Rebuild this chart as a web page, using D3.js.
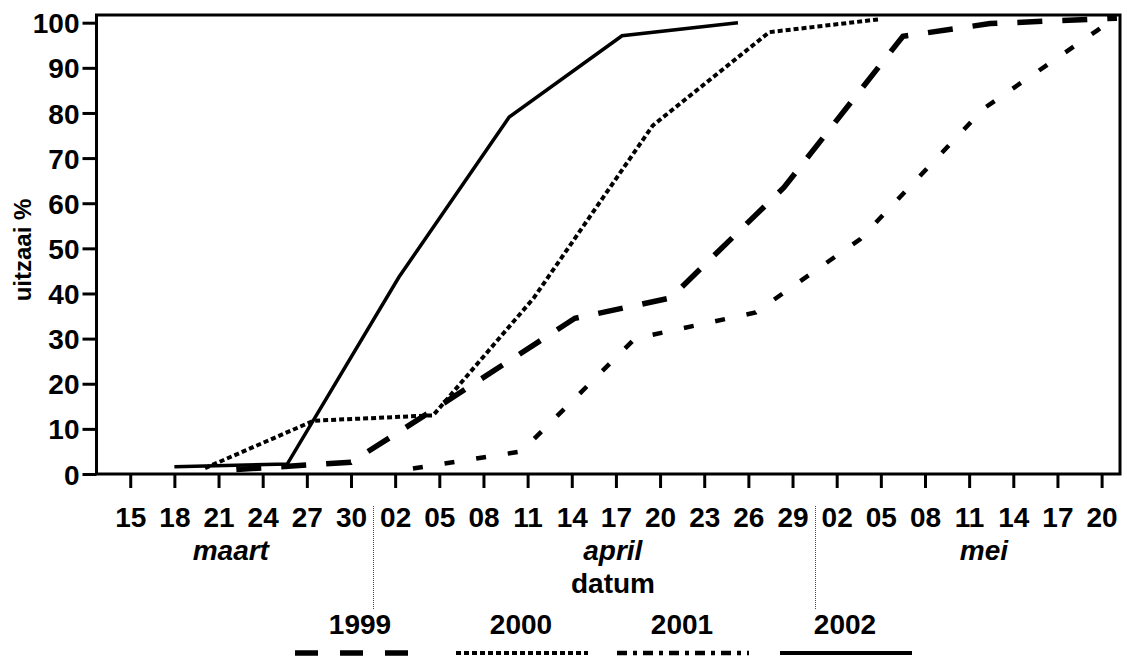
<!DOCTYPE html>
<html>
<head>
<meta charset="utf-8">
<script src="https://cdn.jsdelivr.net/npm/d3@7"></script>
<style>
  html, body { margin: 0; padding: 0; background: #fff; }
  svg { display: block; font-family: "Liberation Sans", Arial, sans-serif; font-weight: bold; }
</style>
</head>
<body>
<svg id="chart" width="1127" height="657"></svg>
<script>
// ---- data -------------------------------------------------------------
const tickDates = [
  "2002-03-15","2002-03-18","2002-03-21","2002-03-24","2002-03-27","2002-03-30",
  "2002-04-02","2002-04-05","2002-04-08","2002-04-11","2002-04-14","2002-04-17",
  "2002-04-20","2002-04-23","2002-04-26","2002-04-29","2002-05-02","2002-05-05",
  "2002-05-08","2002-05-11","2002-05-14","2002-05-17","2002-05-20"
];
const yTicks = [0, 10, 20, 30, 40, 50, 60, 70, 80, 90, 100];

const months = ["maart", "april", "mei"];
const monthAnchors = ["2002-03-21T20", "2002-04-16T19", "2002-05-12T00"];
const monthBreaks = ["2002-03-31T12", "2002-04-30T12"];

const years = ["1999", "2000", "2001", "2002"];

const dates1999  = ["2002-03-22T05","2002-03-30T00","2002-04-04T12","2002-04-14T05",
                    "2002-04-20T17","2002-04-28T10","2002-05-06T12","2002-05-12T10","2002-05-21T01"];
const values1999 = [1.0, 2.6, 14, 34.5, 39, 63.5, 97, 99.8, 101];

const dates2000  = ["2002-03-20T02","2002-03-27T11","2002-04-04T14","2002-04-11T10",
                    "2002-04-19T12","2002-04-27T10","2002-05-05T00"];
const values2000 = [1.3, 11.8, 13, 39, 77.2, 97.9, 100.8];

const dates2001  = ["2002-04-03T05","2002-04-10T14","2002-04-18T07","2002-04-26T12",
                    "2002-05-03T14","2002-05-12T00","2002-05-19T17","2002-05-20T12"];
const values2001 = [1.2, 5, 30, 35.8, 52, 81, 98.3, 100.2];

const dates2002  = ["2002-03-18T00","2002-03-25T16","2002-04-02T06","2002-04-09T18",
                    "2002-04-17T10","2002-04-25T07"];
const values2002 = [1.6, 2.2, 43.6, 79.1, 97.1, 100];

// ---- helpers ----------------------------------------------------------
const parseDay = d3.utcParse("%Y-%m-%d");
const parseHour = d3.utcParse("%Y-%m-%dT%H");
const parse = s => (s.length > 10 ? parseHour(s) : parseDay(s));

const svg = d3.select("#chart");
const font = 28;

const plotLeft = 96.5, plotRight = 1120, plotTop = 15, plotBottom = 474;

const x = d3.scaleUtc()
  .domain([parse("2002-03-12T17"), parse("2002-05-21T06")])
  .range([plotLeft, plotRight]);

const y = d3.scaleLinear()
  .domain([0, 100])
  .range([plotBottom, 22.7]);

// ---- series -----------------------------------------------------------
const series = [
  { year: years[0], dates: dates1999, values: values1999, width: 5.5, dash: "25,20" },
  { year: years[1], dates: dates2000, values: values2000, width: 4,   dash: "5,3" },
  { year: years[2], dates: dates2001, values: values2001, width: 4.5, dash: "10,22" },
  { year: years[3], dates: dates2002, values: values2002, width: 3.5, dash: null }
];

const line = d3.line()
  .x(d => x(d.date))
  .y(d => y(d.value));

const lines = svg.append("g").attr("class", "series");
series.forEach(s => {
  const pts = s.dates.map((d, i) => ({ date: parse(d), value: s.values[i] }));
  lines.append("path")
    .datum(pts)
    .attr("d", line)
    .attr("fill", "none")
    .attr("stroke", "#000")
    .attr("stroke-width", s.width)
    .attr("stroke-linejoin", "miter")
    .attr("stroke-linecap", "butt")
    .attr("stroke-dasharray", s.dash);
});

// ---- axes -------------------------------------------------------------
const xAxis = d3.axisBottom(x)
  .tickValues(tickDates.map(parse))
  .tickFormat(d3.utcFormat("%d"))
  .tickSizeInner(14)
  .tickSizeOuter(0)
  .tickPadding(19);

const gx = svg.append("g")
  .attr("transform", `translate(0,${plotBottom})`)
  .call(xAxis);
gx.select(".domain").remove();
gx.selectAll(".tick line").attr("stroke", "#000").attr("stroke-width", 3);
gx.selectAll(".tick text")
  .attr("fill", "#000")
  .style("font-size", font + "px")
  .style("font-weight", "bold")
  .style("font-family", "'Liberation Sans', Arial, sans-serif");

const yAxis = d3.axisLeft(y)
  .tickValues(yTicks)
  .tickSizeInner(14)
  .tickSizeOuter(0)
  .tickPadding(3);

const gy = svg.append("g")
  .attr("transform", `translate(${plotLeft},0)`)
  .call(yAxis);
gy.select(".domain").remove();
gy.selectAll(".tick line").attr("stroke", "#000").attr("stroke-width", 3);
gy.selectAll(".tick text")
  .attr("fill", "#000")
  .attr("dy", "0.36em")
  .style("font-size", font + "px")
  .style("font-weight", "bold")
  .style("font-family", "'Liberation Sans', Arial, sans-serif");

// plot frame
svg.append("rect")
  .attr("x", plotLeft).attr("y", plotTop)
  .attr("width", plotRight - plotLeft).attr("height", plotBottom - plotTop)
  .attr("fill", "none")
  .attr("stroke", "#000")
  .attr("stroke-width", 3);

// ---- month labels, separators, axis titles ----------------------------
svg.append("g").selectAll("text")
  .data(months)
  .join("text")
  .attr("x", (m, i) => x(parse(monthAnchors[i])))
  .attr("y", 560)
  .attr("text-anchor", "middle")
  .style("font-size", font + "px")
  .style("font-style", "italic")
  .text(m => m);

svg.append("g").selectAll("line")
  .data(monthBreaks)
  .join("line")
  .attr("x1", d => Math.round(x(parse(d))) + 0.5)
  .attr("x2", d => Math.round(x(parse(d))) + 0.5)
  .attr("y1", 506).attr("y2", 610)
  .attr("stroke", "#444")
  .attr("stroke-width", 1)
  .attr("stroke-dasharray", "1,1");

svg.append("text")
  .attr("x", 613).attr("y", 593)
  .attr("text-anchor", "middle")
  .style("font-size", font + "px")
  .text("datum");

svg.append("text")
  .attr("transform", "translate(31,250) rotate(-90)")
  .attr("text-anchor", "middle")
  .style("font-size", "24px")
  .text("uitzaai %");

// ---- legend -----------------------------------------------------------
const legendCentres = [360, 521, 682, 845];
const legendDash = ["23,22", "5,3", "10,6,4,6", null];
const legendWidth = [5.5, 4, 4.5, 4];

const legend = svg.append("g").attr("class", "legend");
series.forEach((s, i) => {
  const c = legendCentres[i];
  legend.append("text")
    .attr("x", c).attr("y", 634)
    .attr("text-anchor", "middle")
    .style("font-size", font + "px")
    .text(s.year);
  legend.append("line")
    .attr("x1", c - 65).attr("x2", c + 67)
    .attr("y1", 653).attr("y2", 653)
    .attr("stroke", "#000")
    .attr("stroke-width", legendWidth[i])
    .attr("stroke-dasharray", legendDash[i]);
});
</script>
</body>
</html>
